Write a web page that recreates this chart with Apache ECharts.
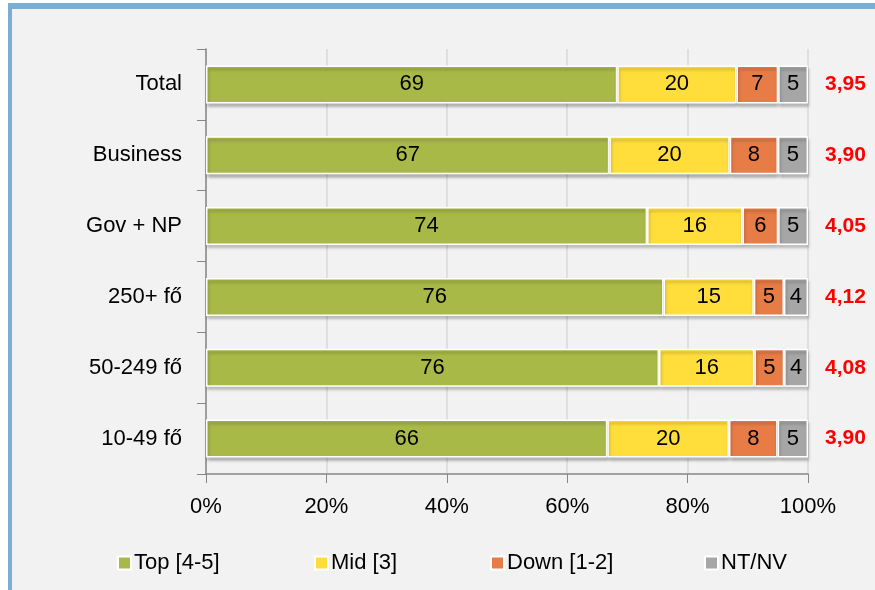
<!DOCTYPE html>
<html><head><meta charset="utf-8">
<script src="https://cdn.jsdelivr.net/npm/echarts@6/dist/echarts.min.js"></script>
<style>
html,body{margin:0;padding:0;background:#fff;}
#frame{position:absolute;left:8px;top:3px;width:875px;height:581px;background:#f2f2f2;border-left:4px solid #7aafd3;border-top:6px solid #7aafd3;border-bottom:3px solid #7aafd3;}
#chart{position:absolute;left:0;top:0;width:875px;height:590px;}
</style></head>
<body>
<div id="frame"></div>
<div id="chart"></div>
<script>
var categories = ['Total', 'Business', 'Gov + NP', '250+ fő', '50-249 fő', '10-49 fő'];
var seriesNames = ['Top [4-5]', 'Mid [3]', 'Down [1-2]', 'NT/NV'];
var topVals  = [69, 67, 74, 76, 76, 66];
var midVals  = [20, 20, 16, 15, 16, 20];
var downVals = [7, 8, 6, 5, 5, 8];
var ntnvVals = [5, 5, 5, 4, 4, 5];
var means = ['3,95', '3,90', '4,05', '4,12', '4,08', '3,90'];
var xTicks = ['0%', '20%', '40%', '60%', '80%', '100%'];

var FONT = "'Liberation Sans Narrow', 'Arial Narrow', 'Liberation Sans', sans-serif";
var FS = 22;
var colors = ['#a9b947', '#ffde3c', '#e77c47', '#a6a6a6'];
var all = [topVals, midVals, downVals, ntnvVals];
var sums = categories.map(function (c, i) { return all.reduce(function (s, a) { return s + a[i]; }, 0); });

var series = all.map(function (arr, k) {
  return {
    name: seriesNames[k], type: 'bar', stack: 'total', barWidth: 38,
    data: arr.map(function (v, i) { return { value: v / sums[i] * 100, raw: v }; }),
    itemStyle: { color: colors[k], borderColor: '#ffffff', borderWidth: 1.5,
      shadowColor: 'rgba(0,0,0,0.25)', shadowBlur: 3, shadowOffsetX: 1, shadowOffsetY: 3 },
    label: { show: true, position: 'inside', color: '#000', fontFamily: FONT, fontSize: FS,
      formatter: function (p) { return String(p.data.raw); } },
    emphasis: { disabled: true }, animation: false
  };
});

var legendX = [117, 314, 490, 704];
var legends = seriesNames.map(function (n, k) {
  return { data: [n], left: legendX[k], top: 552, padding: 0, itemWidth: 13, itemHeight: 13, itemGap: 5,
    icon: 'rect', textStyle: { fontFamily: FONT, fontSize: FS, color: '#000', padding: [0, 0, 0, -2] } };
});

var chart = echarts.init(document.getElementById('chart'), null, { renderer: 'canvas' });
chart.setOption({
  backgroundColor: 'transparent',
  animation: false,
  grid: { left: 206, right: 67, top: 49, bottom: 116, containLabel: false },
  legend: legends,
  xAxis: {
    type: 'value', min: 0, max: 100, interval: 20,
    axisLine: { show: true, lineStyle: { color: '#868686', width: 1.5 } },
    axisTick: { show: true, length: 9, lineStyle: { color: '#868686' } },
    splitLine: { show: true, lineStyle: { color: '#d9d9d9', width: 1.5 } },
    axisLabel: { margin: 22, color: '#000', fontFamily: FONT, fontSize: FS,
      formatter: function (v) { return xTicks[Math.round(v / 20)]; } }
  },
  yAxis: [{
    type: 'category', data: categories, inverse: true,
    axisLine: { show: true, lineStyle: { color: '#868686', width: 1.5 } },
    axisTick: { show: true, length: 9, alignWithLabel: false, lineStyle: { color: '#868686' } },
    axisLabel: { margin: 24, color: '#000', fontFamily: FONT, fontSize: FS }
  }, {
    type: 'category', data: categories, inverse: true, position: 'right',
    axisLine: { show: false }, axisTick: { show: false },
    axisLabel: { margin: 17, color: '#ff0000', fontWeight: 'bold', fontFamily: FONT, fontSize: 21, align: 'left',
      formatter: function (v, i) { return means[i]; } }
  }],
  series: series
});
</script>
</body></html>
